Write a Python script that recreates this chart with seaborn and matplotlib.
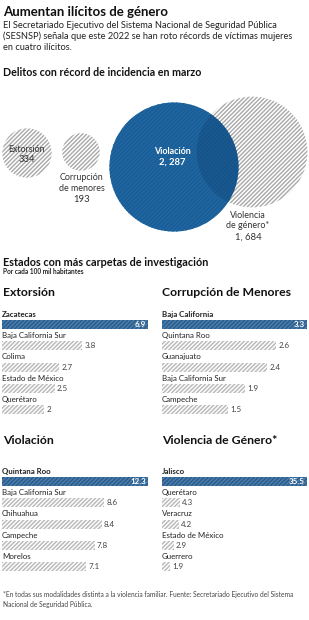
import matplotlib
matplotlib.use('Agg')
import matplotlib.pyplot as plt
import seaborn as sns
import numpy as np
import pandas as pd
from matplotlib.patches import Circle

# Datos
bubble_labels = ['Extorsión', 'Corrupción\nde menores', 'Violación', 'Violencia\nde género*']
bubble_vals = [334, 193, 2287, 1684]

ext_states = ['Zacatecas', 'Baja California Sur', 'Colima', 'Estado de México', 'Querétaro']
ext_vals = [6.9, 3.8, 2.7, 2.5, 2]
cor_states = ['Baja California', 'Quintana Roo', 'Guanajuato', 'Baja California Sur', 'Campeche']
cor_vals = [3.3, 2.6, 2.4, 1.9, 1.5]
vio_states = ['Quintana Roo', 'Baja California Sur', 'Chihuahua', 'Campeche', 'Morelos']
vio_vals = [12.3, 8.6, 8.4, 7.8, 7.1]
gen_states = ['Jalisco', 'Querétaro', 'Veracruz', 'Estado de México', 'Guerrero']
gen_vals = [35.5, 4.3, 4.2, 2.9, 1.9]

sns.set_style('white')
plt.rcParams['font.family'] = ['Lato', 'DejaVu Sans']
plt.rcParams['hatch.linewidth'] = 1.0

W, H = 309, 620
fig = plt.figure(figsize=(W / 100, H / 100), dpi=100)
fig.patch.set_facecolor('white')

# fondo en coordenadas de pixel
bg = fig.add_axes([0, 0, 1, 1])
bg.set_xlim(0, W)
bg.set_ylim(H, 0)
bg.set_axis_off()

dark = '#222222'
blue_bar = '#1d5d97'
blue_circ = '#1f67a3'

bg.text(3, 12, 'Aumentan ilícitos de género', fontsize=9.5, fontweight='bold',
        color='#111111', va='center')
sub = ['El Secretariado Ejecutivo del Sistema Nacional de Seguridad Pública',
       '(SESNSP) señala que este 2022 se han roto récords de víctimas mujeres',
       'en cuatro ilícitos.']
for i, s in enumerate(sub):
    bg.text(3, 26 + i * 10.6, s, fontsize=6.7, color=dark, va='center')

bg.text(3, 72, 'Delitos con récord de incidencia en marzo', fontsize=7.7,
        fontweight='bold', color='#111111', va='center')

# burbujas, area proporcional al valor
k = 1.35
centers = [(27, 153), (81, 152), (174, 167), (252, 152)]
radii = [k * np.sqrt(v) for v in bubble_vals]

c_gen = Circle(centers[3], radii[3], facecolor='white', edgecolor='#a8a8a8',
               hatch='////////', linewidth=0)
bg.add_patch(c_gen)
for i in [0, 1]:
    bg.add_patch(Circle(centers[i], radii[i], facecolor='white', edgecolor='#a8a8a8',
                        hatch='////////', linewidth=0))
c_vio = Circle(centers[2], radii[2], facecolor=blue_circ, edgecolor='#1b5c94',
               hatch='////////', linewidth=0)
bg.add_patch(c_vio)
overlap = Circle(centers[3], radii[3], facecolor='#0b3a66', alpha=0.28, linewidth=0)
bg.add_patch(overlap)
overlap.set_clip_path(c_vio)


def fmt_num(v):
    return f'{v:,}'.replace(',', ', ')


bg.text(27, 150, bubble_labels[0], fontsize=6.4, color='#333333', ha='center', va='center')
bg.text(27, 160, fmt_num(bubble_vals[0]), fontsize=6.8, color='#333333', ha='center', va='center')
for j, line in enumerate(bubble_labels[1].split('\n')):
    bg.text(82, 178 + j * 10.3, line, fontsize=6.4, color='#333333', ha='center', va='center')
bg.text(82, 199, fmt_num(bubble_vals[1]), fontsize=6.8, color='#333333', ha='center', va='center')
bg.text(172, 151, bubble_labels[2], fontsize=6.4, color='white', fontweight='bold',
        ha='center', va='center')
bg.text(172, 162, fmt_num(bubble_vals[2]), fontsize=6.8, color='white', fontweight='bold',
        ha='center', va='center')
for j, line in enumerate(bubble_labels[3].split('\n')):
    bg.text(248, 215 + j * 11, line, fontsize=6.4, color='#333333', ha='center', va='center')
bg.text(248, 237, fmt_num(bubble_vals[3]), fontsize=6.8, color='#333333', ha='center', va='center')

bg.text(3, 262, 'Estados con más carpetas de investigación', fontsize=7.8,
        fontweight='bold', color='#111111', va='center')
bg.text(3, 272, 'Por cada 100 mil habitantes', fontsize=4.7, fontweight='bold',
        color='#222222', va='center')

bg.text(3, 293, 'Extorsión', fontsize=8.8, fontweight='bold', color='#111111', va='center')
bg.text(162, 293, 'Corrupción de Menores', fontsize=8.8, fontweight='bold', color='#111111', va='center')
bg.text(3, 440, 'Violación', fontsize=8.8, fontweight='bold', color='#111111', va='center')
bg.text(162, 440, 'Violencia de Género*', fontsize=8.8, fontweight='bold', color='#111111', va='center')

foot = ['*En todas sus modalidades distinta a la violencia familiar. Fuente: Secretariado Ejecutivo del Sistema',
        'Nacional de Seguridad Pública.']
for i, s in enumerate(foot):
    bg.text(3, 594 + i * 10, s, fontsize=4.8, color='#444444', va='center')

slot = 21.3


def bar_panel(x0, x1, top, states, vals):
    h = slot * len(states)
    ax = fig.add_axes([x0 / W, 1 - (top + h) / H, (x1 - x0) / W, h / H])
    df = pd.DataFrame({'estado': states, 'valor': vals})
    pal = [blue_bar] + ['#bcbcbc'] * (len(states) - 1)
    sns.barplot(data=df, x='valor', y='estado', hue='estado', palette=pal,
                legend=False, width=0.42, ax=ax, orient='h')
    for i, p in enumerate(ax.patches):
        p.set_hatch('////////')
        p.set_linewidth(0)
        p.set_edgecolor('#4b7fb0' if i == 0 else 'white')
    ax.set_xlim(0, max(vals))
    ax.set_ylim(len(states) - 0.5, -0.5)
    ax.set_axis_off()
    for i, (s, v) in enumerate(zip(states, vals)):
        ax.text(0, i - 0.48, s, fontsize=5.7, color=dark, va='center', ha='left',
                fontweight='bold' if i == 0 else 'normal')
        lab = f'{v:g}'
        if i == 0:
            ax.annotate(lab, (v, i), xytext=(-1.5, 0), textcoords='offset points',
                        fontsize=5.8, color='white', fontweight='bold', ha='right', va='center')
        else:
            ax.annotate(lab, (v, i), xytext=(1.5, 0), textcoords='offset points',
                        fontsize=5.8, color='#444444', ha='left', va='center')
    return ax


bar_panel(2, 148, 313.9, ext_states, ext_vals)
bar_panel(162, 307, 313.9, cor_states, cor_vals)
bar_panel(2, 148, 470.9, vio_states, vio_vals)
bar_panel(162, 307, 470.9, gen_states, gen_vals)

fig.savefig('out.png', dpi=100, facecolor='white')
